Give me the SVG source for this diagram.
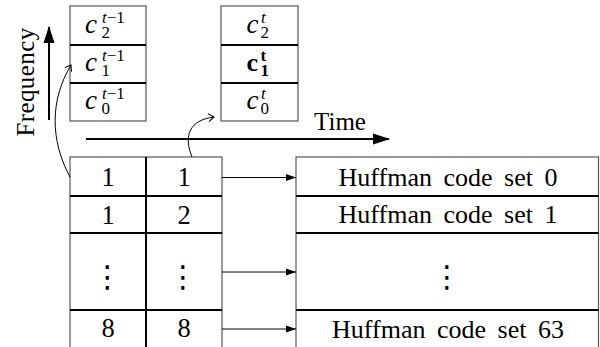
<svg xmlns="http://www.w3.org/2000/svg" width="600" height="347" viewBox="0 0 600 347">
  <style>
    .frame { fill: #fff; stroke: #555; stroke-width: 1.2; }
    .div { stroke: #000; stroke-width: 2; fill: none; }
    .serif { font-family: "Liberation Serif", "Times New Roman", serif; fill: #000; }
    .lbl { font-size: 26px; text-anchor: middle; word-spacing: 5px; }
    .num { font-size: 26.5px; text-anchor: middle; }
    .dots { font-family: "DejaVu Sans", sans-serif; font-size: 30px; text-anchor: middle; }
    .mi { font-style: italic; font-size: 27px; }
    .sc { font-size: 17px; }
    .bold { font-weight: bold; }
    .conn { stroke: #000; stroke-width: 1; fill: none; }
    .axis { stroke: #000; stroke-width: 2; fill: none; }
  </style>
  <defs>
    <marker id="latex" viewBox="0 0 10 8" refX="10" refY="4" markerWidth="10" markerHeight="8" markerUnits="userSpaceOnUse" orient="auto">
      <path d="M0,0.6 L10,4 L0,7.4 Z" fill="#000"/>
    </marker>
    <marker id="bigtip" viewBox="0 0 17 12" refX="16" refY="6" markerWidth="17" markerHeight="12" markerUnits="userSpaceOnUse" orient="auto">
      <path d="M0,0.5 L17,6 L0,11.5 Z" fill="#000"/>
    </marker>
    <marker id="to" viewBox="-6 -5 7 10" refX="0" refY="0" markerWidth="7" markerHeight="10" markerUnits="userSpaceOnUse" orient="auto">
      <path d="M-5.5,-4 Q-1.5,-1 0,0 Q-1.5,1 -5.5,4" stroke="#000" stroke-width="1" fill="none"/>
    </marker>
  </defs>

  <!-- axes -->
  <g id="freq-axis">
    <line class="axis" x1="49" y1="120" x2="49" y2="27" marker-end="url(#bigtip)"/>
    <text class="serif" font-size="25" text-anchor="middle" letter-spacing="0.4" transform="translate(33.5,82) rotate(-90)">Frequency</text>
  </g>
  <g id="time-axis">
    <line class="axis" x1="86" y1="139" x2="389" y2="139" marker-end="url(#bigtip)"/>
    <text class="serif" x="340" y="129.5" font-size="25" text-anchor="middle">Time</text>
  </g>

  <!-- previous frame counters -->
  <g id="prev-counts">
    <rect class="frame" x="70" y="6" width="76" height="115"/>
    <line class="div" x1="70" y1="45" x2="146" y2="45"/>
    <line class="div" x1="70" y1="83" x2="146" y2="83"/>
    <text class="serif"><tspan class="mi" x="85" y="33">c</tspan><tspan class="sc mi" x="102" y="22.5">t</tspan><tspan class="sc" y="22.5">−1</tspan><tspan class="sc" x="101.5" y="38">2</tspan></text>
    <text class="serif"><tspan class="mi" x="85" y="71">c</tspan><tspan class="sc mi" x="102" y="60.5">t</tspan><tspan class="sc" y="60.5">−1</tspan><tspan class="sc" x="101.5" y="76">1</tspan></text>
    <text class="serif"><tspan class="mi" x="85" y="109">c</tspan><tspan class="sc mi" x="102" y="98.5">t</tspan><tspan class="sc" y="98.5">−1</tspan><tspan class="sc" x="101.5" y="114">0</tspan></text>
  </g>

  <!-- current frame counters -->
  <g id="cur-counts">
    <rect class="frame" x="221" y="6" width="77" height="115"/>
    <line class="div" x1="221" y1="45" x2="298" y2="45"/>
    <line class="div" x1="221" y1="83" x2="298" y2="83"/>
    <text class="serif"><tspan class="mi" x="246.5" y="33">c</tspan><tspan class="sc mi" x="261" y="22.5">t</tspan><tspan class="sc" x="260.5" y="38">2</tspan></text>
    <text class="serif bold"><tspan font-size="26" x="246.5" y="71">c</tspan><tspan class="sc" x="260.5" y="60.5">t</tspan><tspan class="sc" x="260.5" y="76">1</tspan></text>
    <text class="serif"><tspan class="mi" x="246.5" y="109">c</tspan><tspan class="sc mi" x="261" y="98.5">t</tspan><tspan class="sc" x="260.5" y="114">0</tspan></text>
  </g>

  <!-- index table -->
  <g id="index-table">
    <rect class="frame" x="70" y="157" width="152" height="200"/>
    <line class="div" x1="146" y1="157" x2="146" y2="357"/>
    <line class="div" x1="70" y1="196" x2="222" y2="196"/>
    <line class="div" x1="70" y1="233" x2="222" y2="233"/>
    <line class="div" x1="70" y1="310" x2="222" y2="310"/>
    <text class="serif num" x="108" y="186">1</text>
    <text class="serif num" x="184" y="186">1</text>
    <text class="serif num" x="108" y="224">1</text>
    <text class="serif num" x="184" y="224">2</text>
    <text class="dots" x="107.5" y="287">⋮</text>
    <text class="dots" x="183" y="287">⋮</text>
    <text class="serif num" x="108" y="337">8</text>
    <text class="serif num" x="184" y="337">8</text>
  </g>

  <!-- Huffman code sets -->
  <g id="code-sets">
    <rect class="frame" x="296" y="157" width="302.5" height="200"/>
    <line class="div" x1="296" y1="196" x2="598.5" y2="196"/>
    <line class="div" x1="296" y1="233" x2="598.5" y2="233"/>
    <line class="div" x1="296" y1="310" x2="598.5" y2="310"/>
    <text class="serif lbl" x="448" y="186">Huffman code set 0</text>
    <text class="serif lbl" x="448" y="223">Huffman code set 1</text>
    <text class="dots" x="447" y="287">⋮</text>
    <text class="serif lbl" x="448" y="338">Huffman code set 63</text>
  </g>

  <!-- connectors -->
  <g id="connectors">
    <line class="conn" x1="222" y1="177.5" x2="296" y2="177.5" marker-end="url(#latex)"/>
    <line class="conn" x1="222" y1="272" x2="296" y2="272" marker-end="url(#latex)"/>
    <line class="conn" x1="222" y1="329" x2="296" y2="329" marker-end="url(#latex)"/>
    <path class="conn" d="M70,177 C50,140 50,100 71,65" marker-end="url(#to)"/>
    <path class="conn" d="M192,157 C183,135 190,120 214,117" marker-end="url(#to)"/>
  </g>
</svg>
